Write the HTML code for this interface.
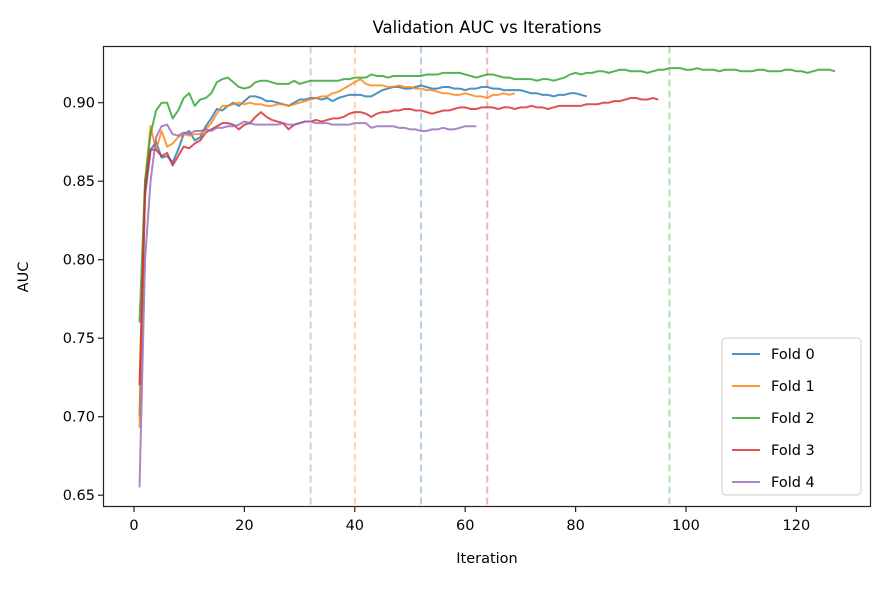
<!DOCTYPE html>
<html><head><meta charset="utf-8"><style>
body{margin:0;background:#fff;font-family:"Liberation Sans","DejaVu Sans",sans-serif;}
svg text{font-family:"DejaVu Sans","Liberation Sans",sans-serif;fill:#000;}
</style></head><body>
<svg id="chart" width="885" height="585" viewBox="0 0 885 585">
<rect width="885" height="585" fill="#fff"/>
<text x="487" y="33" font-size="16.5" text-anchor="middle">Validation AUC vs Iterations</text>
<g id="vlines"></g>
<g id="series"></g>
<rect x="103.5" y="46.5" width="767" height="460" fill="none" stroke="#222" stroke-width="1.2"/>
<g id="xticks"></g><g id="yticks"></g>
<text x="487" y="563" font-size="14.5" text-anchor="middle">Iteration</text>
<text x="28" y="277" font-size="14.5" text-anchor="middle" transform="rotate(-90 28 277)">AUC</text>
<g id="legend"></g>
</svg>
<script>
const foldNames=["Fold 0","Fold 1","Fold 2","Fold 3","Fold 4"];
const colors=["#1f77b4","#ff7f0e","#2ca02c","#d62728","#9467bd"];
const fold0=[.700,.840,.870,.875,.865,.866,.862,.870,.880,.882,.876,.878,.885,.890,.896,.895,.898,.900,.898,.901,
.904,.904,.903,.901,.901,.900,.899,.898,.900,.902,.902,.903,.903,.902,.903,.901,.903,.904,.905,.905,
.905,.904,.904,.906,.908,.909,.910,.910,.909,.909,.910,.911,.910,.909,.909,.910,.910,.909,.909,.908,
.909,.909,.910,.910,.909,.909,.908,.908,.908,.908,.907,.906,.906,.905,.905,.904,.905,.905,.906,.906,.905,.904];
const fold1=[.693,.850,.885,.870,.882,.872,.874,.878,.880,.879,.880,.880,.883,.887,.893,.898,.898,.899,.900,.899,
.900,.899,.899,.898,.898,.899,.899,.898,.899,.900,.901,.902,.903,.904,.904,.906,.907,.909,.911,.913,
.915,.912,.911,.911,.911,.910,.910,.911,.910,.910,.909,.909,.908,.908,.907,.906,.906,.905,.905,.906,
.905,.904,.904,.903,.905,.905,.906,.905,.906];
const fold2=[.760,.850,.880,.895,.900,.900,.890,.895,.903,.906,.898,.902,.903,.906,.913,.915,.916,.913,.910,.909,
.910,.913,.914,.914,.913,.912,.912,.912,.914,.912,.913,.914,.914,.914,.914,.914,.914,.915,.915,.916,
.916,.916,.918,.917,.917,.916,.917,.917,.917,.917,.917,.917,.918,.918,.918,.919,.919,.919,.919,.918,
.917,.916,.917,.918,.918,.917,.916,.916,.915,.915,.915,.915,.914,.915,.915,.914,.915,.916,.918,.919,
.918,.919,.919,.920,.920,.919,.920,.921,.921,.920,.920,.920,.919,.920,.921,.921,.922,.922,.922,.921,
.921,.922,.921,.921,.921,.920,.921,.921,.921,.920,.920,.920,.921,.921,.920,.920,.920,.921,.921,.920,
.920,.919,.920,.921,.921,.921,.920];
const fold3=[.720,.845,.870,.870,.866,.868,.860,.866,.872,.871,.874,.876,.881,.883,.885,.887,.887,.886,.883,.886,
.887,.891,.894,.891,.889,.888,.887,.883,.886,.887,.888,.888,.889,.888,.889,.890,.890,.891,.893,.894,
.894,.893,.891,.893,.894,.894,.895,.895,.896,.896,.895,.895,.894,.893,.894,.895,.895,.896,.897,.897,
.896,.896,.897,.897,.897,.896,.897,.897,.896,.897,.897,.898,.897,.897,.896,.897,.898,.898,.898,.898,
.898,.899,.899,.899,.900,.900,.901,.901,.902,.903,.903,.902,.902,.903,.902];
const fold4=[.655,.800,.850,.878,.885,.886,.880,.879,.881,.880,.882,.882,.883,.882,.884,.884,.885,.885,.886,.888,
.887,.886,.886,.886,.886,.886,.887,.886,.886,.887,.888,.888,.887,.887,.887,.886,.886,.886,.886,.887,
.887,.887,.884,.885,.885,.885,.885,.884,.884,.883,.883,.882,.882,.883,.883,.884,.883,.883,.884,.885,
.885,.885];
const bestIters=[52,40,97,64,32];
const xTicks=[0,20,40,60,80,100,120];
const yTicks=[0.65,0.70,0.75,0.80,0.85,0.90];
const allFolds=[fold0,fold1,fold2,fold3,fold4];

const X=v=>134+5.52*v;
const Y=v=>102.7+(0.90-v)*1570;
const NS="http://www.w3.org/2000/svg";
function mk(tag,attrs,parent){const e=document.createElementNS(NS,tag);for(const k in attrs)e.setAttribute(k,attrs[k]);parent.appendChild(e);return e;}

const vl=document.getElementById('vlines');
bestIters.forEach((b,i)=>{
  const l=mk('line',{x1:X(b),x2:X(b),y1:46.5,y2:506.5,stroke:colors[i],'stroke-width':2,'stroke-dasharray':'7,4','stroke-opacity':0.35},vl);
  
  
});
const sg=document.getElementById('series');
allFolds.forEach((arr,i)=>{
  const d=arr.map((v,j)=>(j?'L':'M')+X(j+1).toFixed(2)+','+Y(v).toFixed(2)).join('');
  const p=mk('path',{d:d,fill:'none',stroke:colors[i],'stroke-width':2,'stroke-opacity':0.8,'stroke-linejoin':'round'},sg);
  
  
});
const xt=document.getElementById('xticks');
xTicks.forEach(t=>{
  mk('line',{x1:X(t),x2:X(t),y1:507,y2:512,stroke:'#222','stroke-width':1.2},xt);
  const tx=mk('text',{x:X(t),y:530,'font-size':14.5,'text-anchor':'middle'},xt);
  tx.textContent=t;
  
  
});
const yt=document.getElementById('yticks');
yTicks.forEach(t=>{
  mk('line',{x1:98,x2:103.5,y1:Y(t),y2:Y(t),stroke:'#222','stroke-width':1.2},yt);
  const tx=mk('text',{x:95,y:Y(t)+5,'font-size':14.5,'text-anchor':'end'},yt);
  tx.textContent=t.toFixed(2);
  
  
});
const lg=document.getElementById('legend');
const box=mk('rect',{x:722,y:338,width:139,height:157,rx:4,fill:'#fff','fill-opacity':0.8,stroke:'#ccc'},lg);


foldNames.forEach((n,i)=>{
  const y=354+i*32;
  const g=mk('g',{},lg);
  
  
  mk('line',{x1:732,x2:760,y1:y,y2:y,stroke:colors[i],'stroke-width':2,'stroke-opacity':0.8},g);
  const tx=mk('text',{x:771,y:y+5,'font-size':14.5},g);
  tx.textContent=n;
});
</script>
</body></html>
